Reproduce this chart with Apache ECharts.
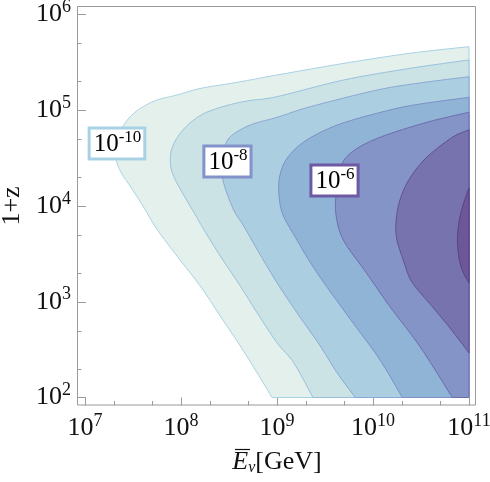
<!DOCTYPE html>
<html><head><meta charset="utf-8">
<script src="https://cdn.jsdelivr.net/npm/echarts/dist/echarts.min.js"></script>
<style>html,body{margin:0;padding:0;background:#fff}#c{width:490px;height:482px}</style>
</head><body><div id="c"></div>
<script>
// Axes are in log10 space: x = log10(E_nu / GeV), y = log10(1+z)
const xDecades = [7, 8, 9, 10, 11];
const yDecades = [2, 3, 4, 5, 6];
const minorMantissas = [2, 5];

// contour levels (flux), outermost first
const levels = [-10, -9, -8, -7, -6, -5, -4];

// contour lines, as [log10 E, log10(1+z)]
const c1 = [[11,5.664],[10.385,5.595],[9.698,5.490],[9.0,5.368],[8.719,5.316],[8.479,5.274],[8.198,5.227],[7.958,5.159],[7.750,5.107],[7.583,5.024],[7.469,4.930],[7.385,4.815],[7.333,4.689],[7.318,4.564],[7.333,4.449],[7.385,4.334],[7.469,4.209],[7.604,4.000],[7.750,3.757],[7.958,3.478],[8.201,3.164],[8.409,2.851],[8.618,2.538],[8.792,2.259],[8.948,2.0]];
const c2 = [[11,5.525],[10.389,5.438],[9.695,5.316],[9.0,5.142],[8.719,5.102],[8.479,5.050],[8.250,4.971],[8.094,4.867],[7.979,4.742],[7.911,4.616],[7.889,4.512],[7.901,4.376],[7.958,4.240],[8.052,4.073],[8.156,3.896],[8.236,3.757],[8.409,3.478],[8.618,3.164],[8.792,2.886],[9.0,2.572],[9.174,2.363],[9.375,2.0]];
const c3 = [[11,5.350],[10.490,5.285],[10.042,5.211],[9.347,5.037],[9.0,4.926],[8.722,4.846],[8.514,4.724],[8.448,4.585],[8.427,4.428],[8.445,4.237],[8.549,3.958],[8.653,3.791],[8.792,3.548],[9.0,3.199],[9.208,2.886],[9.451,2.538],[9.625,2.259],[9.816,2.0]];
const c4 = [[11,5.135],[10.490,5.065],[10.177,5.003],[9.656,4.856],[9.309,4.689],[9.115,4.512],[9.031,4.324],[9.021,4.115],[9.063,3.906],[9.208,3.645],[9.344,3.415],[9.518,3.157],[9.795,2.775],[10.073,2.392],[10.305,2.0]];
const c5 = [[11,4.979],[10.524,4.864],[10.003,4.689],[9.726,4.515],[9.646,4.324],[9.615,4.115],[9.615,3.906],[9.691,3.645],[9.934,3.297],[10.177,2.948],[10.490,2.531],[10.826,2.0]];
const c6 = [[11,4.794],[10.833,4.721],[10.563,4.512],[10.385,4.292],[10.281,4.063],[10.240,3.833],[10.250,3.645],[10.323,3.415],[10.406,3.206],[10.630,2.935],[10.802,2.726],[11,2.465]];
const c7 = [[11,4.188],[10.938,4.010],[10.896,3.833],[10.880,3.645],[10.896,3.457],[10.938,3.311],[11,3.196]];
const contours = [c1, c2, c3, c4, c5, c6, c7];

// labelled levels and where their labels sit (data space)
const labelledLevels = [-10, -8, -6];
const labelAnchors = [[7.333, 4.653], [8.484, 4.465], [9.599, 4.266]];

// ---------- styling ----------
const fills = ['#e3f0ec', '#cce3e6', '#abcfe1', '#90b4d6', '#8494c6', '#7773ae', '#6b5799'];
const strokes = ['#a9d2e4', '#98c2dc', '#8aa8d4', '#7e8ec6', '#6f6cae', '#614f96', '#564086'];
const labelBorders = {'-10': '#a9d1e4', '-8': '#8492ca', '-6': '#6d5aa3'};
const SERIF = 'Liberation Serif';
const FRAME = '#9a9a9a';
const OFF = 8; // frame sits 8px outside the data range

const axisRich = {
  b: {fontFamily: SERIF, fontSize: 26, color: '#111', lineHeight: 28},
  s: {fontFamily: SERIF, fontSize: 18, color: '#111', lineHeight: 18, padding: [0, 0, 14, 0]}
};
const boxRich = {
  b: {fontFamily: SERIF, fontSize: 25, color: '#111', lineHeight: 27},
  s: {fontFamily: SERIF, fontSize: 17, color: '#111', lineHeight: 17, padding: [0, 0, 13, 0]}
};
const powLabel = v => Number.isInteger(v) ? '{b|10}{s|' + v + '}' : '';

const minorX = [], minorY = [];
xDecades.slice(0, -1).forEach(d => minorMantissas.forEach(m => minorX.push([d + Math.log10(m), 2])));
yDecades.slice(0, -1).forEach(d => minorMantissas.forEach(m => minorY.push([7, d + Math.log10(m)])));

// Catmull-Rom smoothing of a pixel polyline (rendering only)
function smoothPixels(p, steps) {
  const out = [], n = p.length;
  for (let i = 0; i < n - 1; i++) {
    const p0 = p[Math.max(i - 1, 0)], p1 = p[i], p2 = p[i + 1], p3 = p[Math.min(i + 2, n - 1)];
    for (let s = 0; s < steps; s++) {
      const t = s / steps, t2 = t * t, t3 = t2 * t;
      out.push([0, 1].map(k => 0.5 * (2 * p1[k] + (-p0[k] + p2[k]) * t + (2 * p0[k] - 5 * p1[k] + 4 * p2[k] - p3[k]) * t2 + (-p0[k] + 3 * p1[k] - 3 * p2[k] + p3[k]) * t3)));
    }
  }
  out.push(p[n - 1]);
  return out;
}

const chart = echarts.init(document.getElementById('c'), null, {renderer: 'canvas'});
chart.setOption({
  animation: false,
  backgroundColor: '#fff',
  grid: {left: 85, right: 21, top: 14.5, bottom: 84.5, containLabel: false, outerBoundsMode: 'none'},
  xAxis: {
    type: 'value', min: xDecades[0], max: xDecades[xDecades.length - 1], interval: 1,
    offset: OFF,
    axisLine: {show: false},
    axisTick: {show: true, inside: true, length: 8, lineStyle: {color: FRAME, width: 1}},
    splitLine: {show: false},
    axisLabel: {margin: 9, formatter: powLabel, rich: axisRich},
    name: '{e|E}{n|ν}{g|[GeV]}', nameLocation: 'middle', nameGap: 38,
    nameTextStyle: {rich: {
      e: {fontFamily: SERIF, fontSize: 26, fontStyle: 'italic', color: '#111', lineHeight: 30},
      n: {fontFamily: SERIF, fontSize: 16, fontStyle: 'italic', color: '#111', lineHeight: 16, padding: [10, 0, 0, 0]},
      g: {fontFamily: SERIF, fontSize: 26, color: '#111', lineHeight: 30}
    }}
  },
  yAxis: {
    type: 'value', min: yDecades[0], max: yDecades[yDecades.length - 1], interval: 1,
    offset: OFF,
    axisLine: {show: false},
    axisTick: {show: true, inside: true, length: 9, lineStyle: {color: FRAME, width: 1}},
    splitLine: {show: false},
    axisLabel: {margin: 6, formatter: powLabel, rich: axisRich},
    name: '1+z', nameLocation: 'middle', nameGap: 44, nameRotate: 90,
    nameTextStyle: {fontFamily: SERIF, fontSize: 26, color: '#111'}
  },
  series: [
    {
      type: 'custom', name: 'contours', clip: false, z: 2,
      data: contours.map((c, i) => ({value: [c[0][0], c[0][1], i]})),
      renderItem: (params, api) => {
        const i = params.dataIndex;
        const line = contours[i];
        let px = smoothPixels(line.map(p => api.coord(p)), 10);
        if (line[line.length - 1][1] <= yDecades[0]) px = px.concat([api.coord([xDecades[xDecades.length - 1], yDecades[0]])]);
        return {type: 'polygon', shape: {points: px},
          style: {fill: fills[i], stroke: strokes[i], lineWidth: 1}};
      }
    },
    {
      type: 'custom', name: 'labels', clip: false, z: 5,
      data: labelAnchors.map((a, i) => ({value: [a[0], a[1], i]})),
      renderItem: (params, api) => {
        const i = params.dataIndex;
        const p = api.coord(labelAnchors[i]);
        const lv = labelledLevels[i];
        return {type: 'text', x: p[0], y: p[1], z2: 10,
          style: {text: '{b|10}{s|' + lv + '}', rich: boxRich, align: 'center', verticalAlign: 'middle',
            backgroundColor: '#fff', borderColor: labelBorders[String(lv)], borderWidth: 3, padding: [1, 2, 0, 3]}};
      }
    },
    {
      type: 'custom', name: 'minorX', clip: false, z: 6,
      data: minorX,
      renderItem: (params, api) => {
        const p = api.coord([api.value(0), api.value(1)]);
        const x = Math.round(p[0]) + 0.5;
        return {type: 'line', shape: {x1: x, y1: p[1] + OFF, x2: x, y2: p[1] + OFF - 4.5},
          style: {stroke: FRAME, lineWidth: 1}};
      }
    },
    {
      type: 'custom', name: 'minorY', clip: false, z: 6,
      data: minorY,
      renderItem: (params, api) => {
        const p = api.coord([api.value(0), api.value(1)]);
        const y = Math.round(p[1]) + 0.5;
        return {type: 'line', shape: {x1: p[0] - OFF, y1: y, x2: p[0] - OFF + 4.5, y2: y},
          style: {stroke: FRAME, lineWidth: 1}};
      }
    }
  ]
});

// frame and the overline on the E of the x-axis title
(function () {
  const xm = chart.convertToPixel({gridIndex: 0}, [9, 2]);
  chart.setOption({graphic: [
    {type: 'rect', shape: {x: 77.5, y: 6.5, width: 398, height: 398.5}, style: {fill: null, stroke: FRAME, lineWidth: 1}, z: 100},
    {type: 'line', shape: {x1: xm[0] - 42, y1: 449.5, x2: xm[0] - 27, y2: 449.5}, style: {stroke: '#111', lineWidth: 1.2}, z: 100}
  ]});
})();
</script>
</body></html>
